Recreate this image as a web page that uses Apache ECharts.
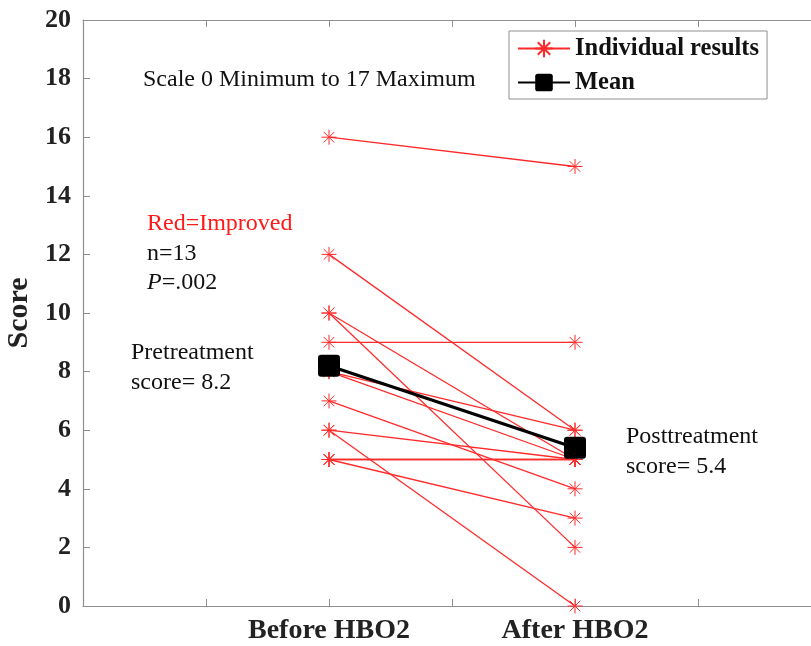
<!DOCTYPE html>
<html>
<head>
<meta charset="utf-8">
<script src="https://cdn.jsdelivr.net/npm/echarts@6/dist/echarts.min.js"></script>
<style>html,body{margin:0;padding:0;background:#fff}#c{width:811px;height:646px}</style>
</head>
<body>
<div id="c"></div>
<script>
// ---- data ----
var xPositions = [2, 4];                 // Before HBO2, After HBO2
var xTickLabels = {2: 'Before HBO2', 4: 'After HBO2'};
var beforeScores = [16, 12, 10, 10, 9, 8, 8, 7, 6, 6, 5, 5, 5];
var afterScores  = [15, 6, 2, 5, 9, 6, 5, 4, 5, 0, 5, 3, 5];
var meanScores = [8.2, 5.4];

var SERIF = '"Liberation Serif", "Times New Roman", serif';
var AX = '#8f8f8f';
var RED = '#ff2a2a';
var starPath = 'path://M0,-10L0,10M-10,0L10,0M-7.07,-7.07L7.07,7.07M-7.07,7.07L7.07,-7.07';

var series = [];
for (var i = 0; i < beforeScores.length; i++) {
  series.push({
    name: 'Individual results',
    type: 'line',
    color: RED,
    data: [[xPositions[0], beforeScores[i]], [xPositions[1], afterScores[i]]],
    symbol: starPath,
    symbolSize: 15,
    lineStyle: {color: RED, width: 1.3, opacity: 1},
    itemStyle: {color: RED, borderColor: RED, borderWidth: 1},
    emphasis: {disabled: true},
    animation: false,
    z: 2
  });
}
series.push({
  name: 'Mean',
  type: 'line',
  color: '#000',
  data: [[xPositions[0], meanScores[0]], [xPositions[1], meanScores[1]]],
  symbol: 'path://M3,0H17Q20,0 20,3V17Q20,20 17,20H3Q0,20 0,17V3Q0,0 3,0Z',
  symbolSize: 22,
  lineStyle: {color: '#000', width: 3},
  itemStyle: {color: '#000', borderWidth: 0},
  emphasis: {disabled: true},
  animation: false,
  z: 5
});

function txt(x, y, s, fill) {
  return {type: 'text', z: 10, style: {x: x, y: y, text: s, font: '24px ' + SERIF, fill: fill || '#111', align: 'left', verticalAlign: 'middle'}};
}

var chart = echarts.init(document.getElementById('c'), null, {renderer: 'canvas'});
chart.setOption({
  animation: false,
  color: [RED],
  grid: {left: 83, right: -10, top: 20, bottom: 40, containLabel: false, outerBoundsMode: 'none'},
  xAxis: [{
    type: 'value', min: 0, max: 6, interval: 1, position: 'bottom',
    axisLine: {show: true, onZero: false, lineStyle: {color: AX, width: 1.2}},
    axisTick: {show: true, inside: true, length: 7, lineStyle: {color: AX}},
    splitLine: {show: false},
    axisLabel: {
      margin: 11, color: '#222', fontFamily: SERIF, fontWeight: 'bold', fontSize: 28,
      formatter: function (v) { return xTickLabels[v] || ''; }
    }
  }, {
    type: 'value', min: 0, max: 6, interval: 1, position: 'top',
    axisLine: {show: true, onZero: false, lineStyle: {color: AX, width: 1.2}},
    axisTick: {show: true, inside: true, length: 7, lineStyle: {color: AX}},
    splitLine: {show: false},
    axisLabel: {show: false}
  }],
  yAxis: {
    type: 'value', min: 0, max: 20, interval: 2,
    name: 'Score', nameLocation: 'middle', nameGap: 42, nameRotate: 90,
    nameTextStyle: {color: '#222', fontFamily: SERIF, fontWeight: 'bold', fontSize: 30},
    axisLine: {show: true, onZero: false, lineStyle: {color: AX, width: 1.2}},
    axisTick: {show: true, inside: true, length: 7, lineStyle: {color: AX}},
    splitLine: {show: false},
    axisLabel: {
      margin: 12, color: '#222', fontFamily: SERIF, fontWeight: 'bold', fontSize: 26
    }
  },
  legend: {
    orient: 'vertical', left: 509, top: 31,
    data: ['Individual results', 'Mean'],
    backgroundColor: '#fff',
    borderColor: '#8f8f8f', borderWidth: 1, borderRadius: 0,
    padding: [5, 8, 4, 8], itemGap: 9, itemWidth: 52, itemHeight: 22,
    textStyle: {color: '#111', fontFamily: SERIF, fontWeight: 'bold', fontSize: 24.5},
    selectedMode: false
  },
  graphic: [
    txt(143, 80, 'Scale 0 Minimum to 17 Maximum'),
    txt(147, 224, 'Red=Improved', '#ff1a1a'),
    txt(147, 254, 'n=13'),
    {type: 'text', z: 10, style: {
      x: 147, y: 283, align: 'left', verticalAlign: 'middle',
      text: '{i|P}{r|=.002}',
      rich: {
        i: {fontStyle: 'italic', fontFamily: SERIF, fontSize: 24, fill: '#111'},
        r: {fontFamily: SERIF, fontSize: 24, fill: '#111'}
      }
    }},
    txt(131, 353, 'Pretreatment'),
    txt(131, 383, 'score= 8.2'),
    txt(626, 437, 'Posttreatment'),
    txt(626, 467, 'score= 5.4')
  ],
  series: series
});
</script>
</body>
</html>
